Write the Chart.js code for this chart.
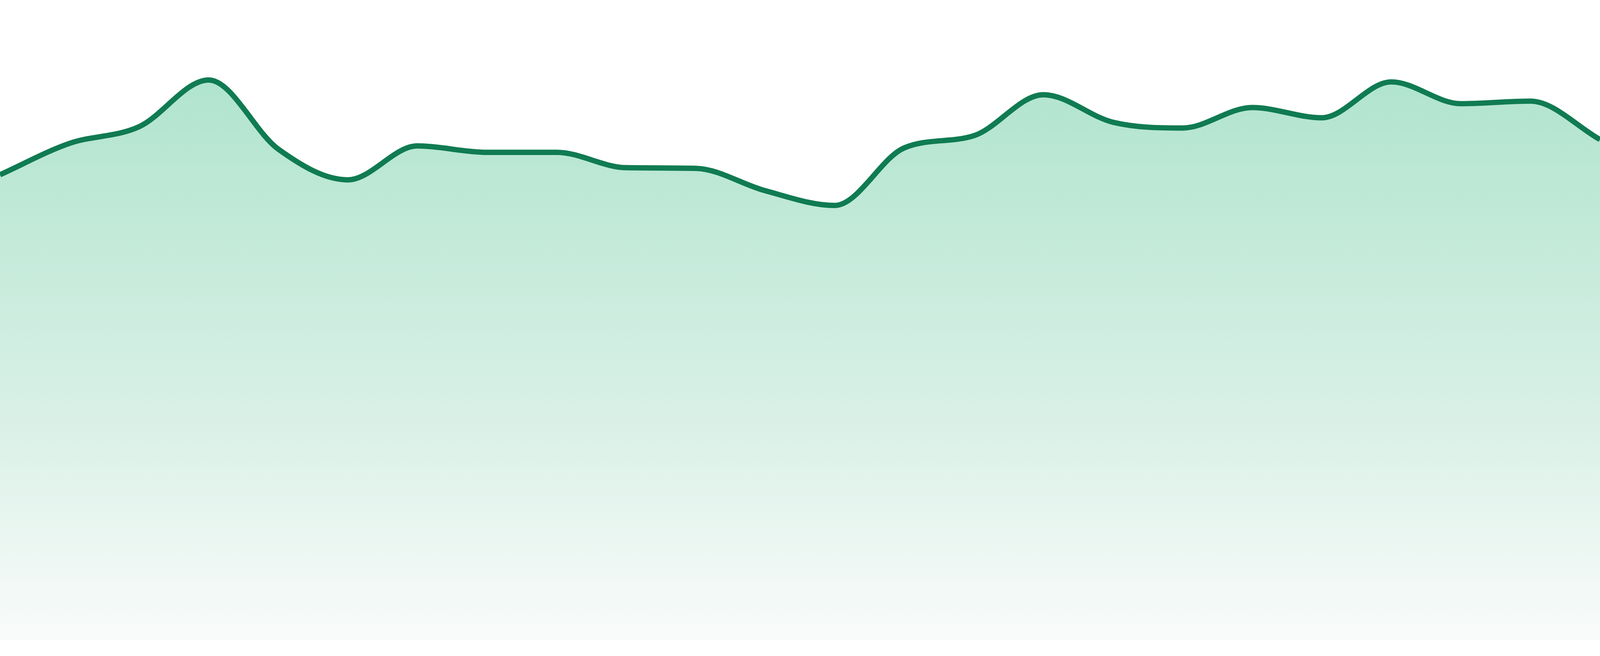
<!DOCTYPE html>
<html>
<head>
<meta charset="utf-8">
<script src="https://cdn.jsdelivr.net/npm/chart.js@4"></script>
<style>
  html, body { margin: 0; padding: 0; background: #ffffff; overflow: hidden; width: 100%; height: 100%; }
  #wrap { position: fixed; left: 0; top: 0; width: 100vw; height: 100vh; }
  canvas { display: block; }
</style>
</head>
<body>
<div id="wrap"><canvas id="c"></canvas></div>
<script>
// Categories (24 evenly spaced periods)
const labels = ["1","2","3","4","5","6","7","8","9","10","11","12",
                "13","14","15","16","17","18","19","20","21","22","23","24"];

// Series values (relative scale 0-100)
const values = [72.7, 77.6, 80.2, 87.5, 76.7, 71.9, 77.2, 76.2, 76.2, 73.8, 73.7, 70.2,
                67.9, 76.9, 78.8, 85.2, 80.9, 80.0, 83.2, 81.6, 87.2, 83.8, 84.2, 78.2];

const yMin = 0;
const yMax = 100;

const lineColor = '#107b52';

// scale relative to the 4800px-wide design
const S = (window.innerWidth || 4800) / 4800;

function areaGradient(context) {
  const chart = context.chart;
  const area = chart.chartArea;
  if (!area) return 'rgba(176,228,206,1)';
  const g = chart.ctx.createLinearGradient(0, area.top, 0, area.bottom);
  g.addColorStop(0, 'rgb(166,225,200)');
  g.addColorStop(0.12, 'rgb(176,228,206)');
  g.addColorStop(0.64, 'rgb(216,240,230)');
  g.addColorStop(1, 'rgb(249,251,250)');
  return g;
}

new Chart(document.getElementById('c'), {
  type: 'line',
  data: {
    labels: labels,
    datasets: [{
      data: values,
      borderColor: lineColor,
      borderWidth: 16 * S,
      backgroundColor: areaGradient,
      fill: 'start',
      pointRadius: 0,
      pointHoverRadius: 0,
      cubicInterpolationMode: 'monotone'
    }]
  },
  options: {
    responsive: true,
    maintainAspectRatio: false,
    animation: false,
    layout: { padding: { top: 0, left: 0, right: 0, bottom: 48 * S } },
    plugins: { legend: { display: false }, tooltip: { enabled: false } },
    scales: {
      x: { display: false, offset: false },
      y: { display: false, min: yMin, max: yMax }
    }
  }
});
</script>
</body>
</html>
